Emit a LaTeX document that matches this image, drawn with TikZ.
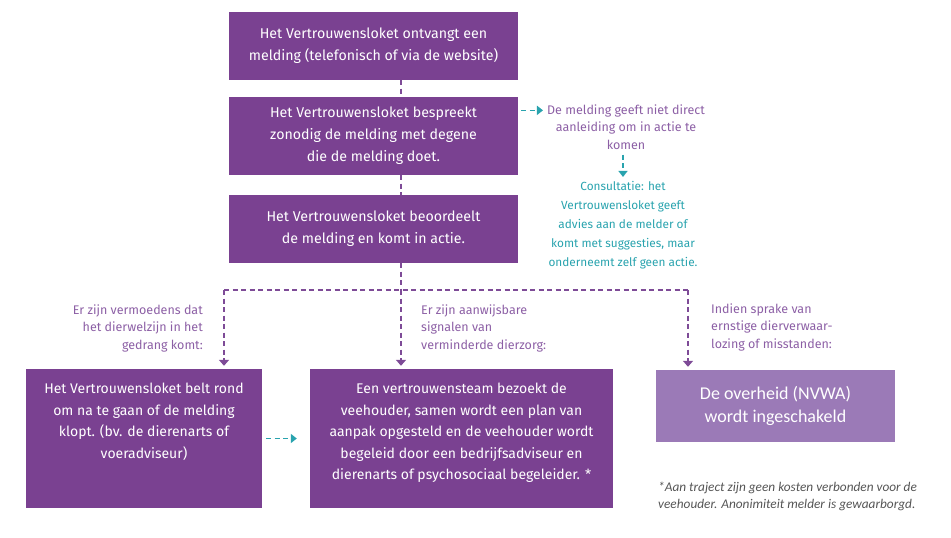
\documentclass[tikz,border=0pt]{standalone}
\usepackage{fontspec}
\setmainfont{Fira Sans}
\newfontfamily\calibri{Carlito}
\usetikzlibrary{arrows.meta, calc}

\definecolor{vlpurple}{RGB}{122,65,145}
\definecolor{vllight}{RGB}{155,122,183}
\definecolor{vllabel}{RGB}{140,95,165}
\definecolor{vldash}{RGB}{126,75,151}
\definecolor{vlteal}{RGB}{41,163,174}
\definecolor{vlgray}{RGB}{85,85,85}

\begin{document}
\begin{tikzpicture}[x=1pt, y=-1pt]
\tikzstyle{box}=[rectangle, fill=vlpurple, text=white, align=center, inner sep=0pt, minimum width=289pt, font=\fontsize{14.2}{22}\selectfont];
\tikzstyle{topbox}=[rectangle, fill=vlpurple, text=white, inner xsep=0pt, inner ysep=14pt, font=\fontsize{14}{21.5}\selectfont];
\tikzstyle{govbox}=[rectangle, fill=vllight, text=white, align=center, inner sep=0pt, minimum width=239pt, minimum height=72pt, font=\calibri\fontsize{18}{23}\selectfont];
\tikzstyle{cond}=[inner sep=0pt, text=vllabel, font=\fontsize{12.5}{17.5}\selectfont];
\tikzstyle{advice}=[inner sep=0pt, text=vlteal, align=center, font=\fontsize{11.8}{19}\selectfont];
\tikzstyle{note}=[inner sep=0pt, text=vlgray, align=left, font=\calibri\itshape\fontsize{13.3}{17}\selectfont];
\tikzstyle{dashline}=[draw=vldash, line width=1.5pt, dash pattern=on 5pt off 3.5pt];
\tikzstyle{arrow}=[dashline, -{Triangle[width=10pt, length=6pt]}, shorten >=3pt];
\tikzstyle{tealarrow}=[draw=vlteal, line width=1.5pt, dash pattern=on 5pt off 3.5pt, -{Triangle[width=9pt, length=6pt]}];

\useasboundingbox (0,0) rectangle (951,538);

% top column
\node [box, minimum height=68pt] at (373.5,46) (Ontvangt) {Het Vertrouwensloket ontvangt een\\melding (telefonisch of via de website)};
\node [box, minimum height=78pt] at (373.5,136) (Bespreekt) {Het Vertrouwensloket bespreekt\\zonodig de melding met degene\\die de melding doet.};
\node [box, minimum height=68pt] at (373.5,229) (Beoordeelt) {Het Vertrouwensloket beoordeelt\\de melding en komt in actie.};

% side branch
\node [cond, align=center] at (626,127) (Geen Aanleiding) {De melding geeft niet direct\\aanleiding om in actie te\\komen};
\node [advice] at (623,225) (Consultatie) {Consultatie: het\\Vertrouwensloket geeft\\advies aan de melder of\\komt met suggesties, maar\\onderneemt zelf geen actie.};

% conditions
\node [cond, align=right, anchor=east] at (203,328) (Vermoedens) {Er zijn vermoedens dat\\het dierwelzijn in het\\gedrang komt:};
\node [cond, align=left, anchor=west] at (421,328) (Signalen) {Er zijn aanwijsbare\\signalen van\\verminderde dierzorg:};
\node [cond, align=left, anchor=west] at (711,327) (Misstanden) {Indien sprake van\\ernstige dierverwaar-\\lozing of misstanden:};

% bottom row
\node [topbox] at (144,438.5) (Belt Rond) {\parbox[t][111pt][t]{236pt}{\centering Het Vertrouwensloket belt rond\\om na te gaan of de melding\\klopt. (bv. de dierenarts of\\voeradviseur)}};
\node [topbox] at (461.5,438.5) (Team) {\parbox[t][111pt][t]{303pt}{\centering Een vertrouwensteam bezoekt de\\veehouder, samen wordt een plan van\\aanpak opgesteld en de veehouder wordt\\begeleid door een bedrijfsadviseur en\\dierenarts of psychosociaal begeleider. *}};
\node [govbox] at (775.5,406) (NVWA) {De overheid (NVWA)\\wordt ingeschakeld};
\node [note, anchor=west] at (658,496.5) (Voetnoot) {*Aan traject zijn geen kosten verbonden voor de\\veehouder. Anonimiteit melder is gewaarborgd.};

\coordinate (Spine) at (401,290);
\coordinate (Left Drop) at (224,290);
\coordinate (Right Drop) at (688,290);

\draw[dashline] (Ontvangt.south -| Spine) -- (Bespreekt.north -| Spine);
\draw[dashline] (Bespreekt.south -| Spine) -- (Beoordeelt.north -| Spine);
\draw[dashline] (Beoordeelt.south -| Spine) -- (Spine);
\draw[dashline] (Left Drop) -- (Right Drop);

\draw[arrow] (Left Drop) -- (Left Drop |- Belt Rond.north);
\draw[arrow] (Spine) -- (Spine |- Team.north);
\draw[arrow] (Right Drop) -- (Right Drop |- NVWA.north);

\draw[tealarrow] ($(Bespreekt.east |- Geen Aanleiding.north)+(3,6)$) -- ($(Geen Aanleiding.north west)+(-4,6)$);
\draw[tealarrow, shorten <=5pt, shorten >=4pt] (Geen Aanleiding.south -| Consultatie) -- (Consultatie.north);
\draw[tealarrow, shorten <=4pt, shorten >=13pt] (Belt Rond.east) -- (Team.west);

\end{tikzpicture}
\end{document}
